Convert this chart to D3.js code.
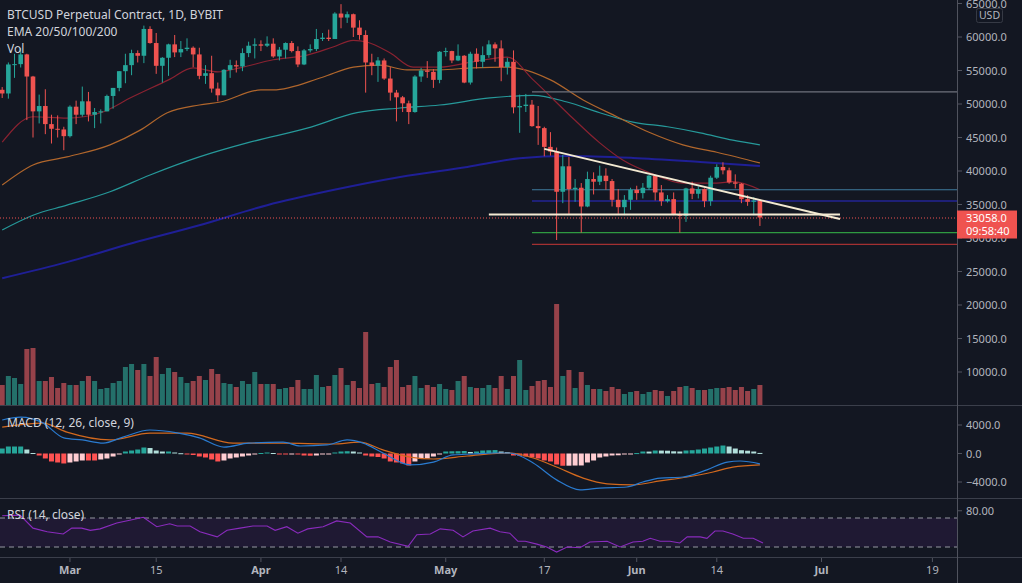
<!DOCTYPE html>
<html>
<head>
<meta charset="utf-8">
<script src="https://cdnjs.cloudflare.com/ajax/libs/d3/7.8.5/d3.min.js"></script>
<style>
    body { margin: 0; background: #131722; overflow: hidden; }
    svg text { font-family: 'Noto Sans', 'Open Sans', sans-serif; }
</style>
</head>
<body>
<svg id="chart" width="1022" height="583"></svg>
<script>

    // daily candles from this day on (BYBIT BTCUSD, 1D)
    var firstDay = '2021-02-18'
    // [open, high, low, close]
    var ohlc = [
        // Feb
        [52120, 52530, 50900, 51570], [51570, 56200, 50800, 55900], [55900, 57500, 53900, 55950],
        [55950, 58350, 55450, 57400], [57400, 57500, 47600, 54100], [54100, 54200, 45000, 48900],
        [48900, 51400, 47100, 49700], [49700, 52200, 45500, 47000], [47000, 48400, 44100, 46300],
        [46300, 48300, 45000, 46200], [46200, 46600, 43100, 45200],
        // Mar
        [45200, 49800, 45000, 49600], [49600, 50500, 47000, 48400], [48400, 52600, 48100, 50400],
        [50400, 51800, 47400, 48400], [48400, 49400, 46400, 48800], [48800, 49200, 47100, 48900],
        [48900, 51400, 48900, 51200], [51200, 52400, 49300, 52400], [52400, 54900, 51900, 54900],
        [54900, 57500, 53100, 55800], [55800, 58100, 54300, 57600], [57600, 58000, 56200, 57200],
        [57200, 61700, 56100, 61200], [61200, 61600, 59000, 59100], [59100, 60600, 54500, 55700],
        [55700, 57000, 53200, 56900], [56900, 59000, 54200, 58900], [58900, 60300, 57000, 57700],
        [57700, 59400, 57000, 58200], [58200, 59800, 57900, 58400], [58400, 58600, 55500, 57400],
        [57400, 58400, 53700, 54200], [54200, 55800, 53000, 54600], [54600, 57200, 51700, 52300],
        [52300, 53200, 50400, 51300], [51300, 55200, 51300, 55100], [55100, 56600, 53900, 55800],
        [55800, 56500, 54700, 55600], [55600, 58300, 54900, 57600], [57600, 59300, 57000, 58700],
        [58700, 59800, 56800, 58900],
        // Apr
        [58900, 59500, 57900, 58700], [58700, 60100, 58500, 59000], [59000, 59800, 56900, 57100],
        [57100, 58500, 56500, 58100], [58100, 59200, 56800, 59100], [59100, 59400, 57700, 57900],
        [57900, 58600, 55500, 55900], [55900, 58200, 55800, 58000], [58000, 58900, 57700, 58200],
        [58200, 61200, 57900, 59700], [59700, 60600, 59400, 59900], [59900, 61100, 59400, 59700],
        [59700, 63700, 59700, 63500], [63500, 64900, 61300, 62900], [62900, 63800, 62100, 63400],
        [63400, 63500, 60000, 61400], [61400, 62500, 59600, 60300], [60300, 61000, 51700, 56200],
        [56200, 57500, 54300, 55700], [55700, 57000, 53300, 56500], [56500, 56800, 53600, 53800],
        [53800, 55500, 50500, 51700], [51700, 52100, 47400, 51000], [51000, 51200, 48800, 50100],
        [50100, 50500, 47000, 48800], [48800, 54300, 48700, 54100], [54100, 55400, 53300, 55000],
        [55000, 56400, 53900, 54800], [54800, 55200, 52400, 53600], [53600, 57900, 53100, 57800],
        // May
        [57800, 58400, 57100, 57900], [57900, 57950, 56100, 56500], [56500, 58900, 56400, 57200],
        [57200, 57300, 53100, 53200], [53200, 57800, 52900, 57500], [57500, 58300, 55300, 56300],
        [56300, 58600, 55400, 57300], [57300, 59500, 56900, 58900], [58900, 59200, 56300, 58300],
        [58300, 59500, 53400, 55500], [55500, 56900, 54400, 56300], [56300, 58000, 48600, 49500],
        [49500, 51400, 45700, 49700], [49700, 51500, 48800, 49900], [49900, 50600, 46600, 46700],
        [46700, 49700, 43900, 46400], [46400, 46600, 42200, 43600], [43600, 45800, 42300, 42900],
        [42900, 43500, 29700, 36900], [36900, 42400, 35200, 40700], [40700, 42100, 33500, 37300],
        [37300, 38800, 35400, 37500], [37500, 38200, 30800, 34700], [34700, 39900, 34600, 38800],
        [38800, 39800, 36500, 38400], [38400, 40800, 37900, 39300], [39300, 40400, 37200, 38500],
        [38500, 38800, 34700, 35700], [35700, 37300, 33600, 34600], [34600, 36400, 33400, 35700],
        [35700, 37500, 34200, 37200],
        // Jun
        [37200, 37800, 35700, 36700], [36700, 38200, 35900, 37500], [37500, 39400, 37200, 39300],
        [39300, 39300, 35600, 36800], [36800, 37900, 34800, 35500], [35500, 36400, 35300, 35800],
        [35800, 36800, 33400, 33500], [33500, 34000, 30800, 33300], [33300, 37500, 32400, 37400],
        [37400, 38400, 35800, 36600], [36600, 37700, 35900, 37300], [37300, 37400, 34600, 35500],
        [35500, 39300, 34800, 39000], [39000, 41000, 38800, 40600], [40600, 41300, 39500, 40100],
        [40100, 40500, 38100, 38300], [38300, 39500, 37400, 38100], [38100, 38200, 35200, 35800],
        [35800, 36400, 34800, 35400], [35400, 36100, 33400, 35600], [35600, 35750, 31800, 33058]
    ]

    var volumes = [
        2000, 2900, 2700, 2100, 5600, 5700, 2400, 2400, 2800, 1700, 2200,
        2000, 2000, 2400, 2900, 2400, 1600, 1700, 2200, 2400, 3800, 4100, 3500, 4100, 2900, 4800,
        3100, 3700, 3300, 2800, 2200, 2400, 2900, 2500, 3600, 3100, 2200, 2100, 1800, 2400, 2100,
        3300, 2100, 2100, 2100, 1600, 1700, 1800, 2500, 1600, 1600, 3000, 1800, 1900, 3000, 3700,
        2000, 2400, 1700, 7300, 2100, 2200, 1800, 3800, 4500, 1800, 2000, 2900, 1700, 2000, 1800,
        2100, 1600, 1500, 2400, 2900, 1800, 1700, 1700, 2000, 1700, 2900, 1600, 2900, 4500, 1500,
        1900, 2400, 2500, 1800, 10100, 2900, 3500, 1700, 3300, 2000, 1600, 1600, 1400, 1800, 1600,
        1100, 1300, 1400, 1100, 1300, 1500, 1400, 900, 1400, 1800, 1900, 1700, 1500, 1500, 1600,
        1700, 1700, 1800, 1500, 1800, 1400, 1600, 2000
    ]

    // EMA lines, read as [day index, price]
    var ema20 = [[0, 44300], [5, 48100], [10.5, 47900], [16, 48700], [21, 51000], [27, 53600],
        [31, 55400], [35, 54800], [38.6, 55400], [44, 56600], [49.5, 57300], [53.7, 58500],
        [57, 59500], [59.2, 59250], [63, 57600], [66.7, 55500], [71, 55500], [76.4, 56300],
        [82, 57000], [86.2, 53600], [91.7, 48700], [97, 44200], [100.8, 41600], [105.2, 39700],
        [110.5, 38200], [116, 38200], [118.6, 38400], [123, 37200]]
    var ema50 = [[0, 37900], [5, 40900], [10.5, 42100], [17.5, 43900], [22.4, 46100], [26.8, 48700],
        [32, 49850], [35.4, 50300], [42, 52100], [44, 52100], [52, 54000], [57, 55500], [61.3, 55800],
        [65.7, 55100], [71, 55100], [76.4, 55400], [82, 55500], [89, 53600], [94.3, 50600],
        [99.8, 48100], [105.2, 45700], [110.5, 43900], [116, 42800], [123, 41200]]
    var ema100 = [[0, 31200], [5, 33400], [10.5, 34900], [17.5, 36900], [24, 39400], [32, 42100],
        [40.2, 44300], [49.5, 46400], [57.6, 48700], [64.6, 49400], [71, 49850], [79.2, 50900],
        [86.2, 51300], [91.7, 50300], [97, 48700], [102.4, 47300], [108, 46600], [113.3, 45700],
        [118.6, 44600], [123, 43900]]
    var ema200 = [[0, 24000], [10.5, 26400], [21.2, 29250], [32, 31900], [43, 34900], [53.7, 37150],
        [64.6, 39100], [75.5, 40600], [84, 41900], [91.7, 42250], [102.4, 41950], [113.3, 41350],
        [123, 40750]]

    // MACD (12, 26, close, 9)
    var macdHist = [
        700, 980, 980, 980, 560, 70, -280, -700, -1120, -1260, -1400, -1260, -1120, -980, -980,
        -980, -840, -700, -420, -70, 280, 420, 560, 840, 770, 420, 280, 280, 140, 40, -140, -210,
        -420, -560, -840, -1120, -980, -700, -560, -420, -280, -70, 70, 140, 70, -70, -140, -110,
        -140, -280, -310, -280, -140, -70, 140, 280, 320, 280, 140, -280, -420, -490, -700, -1120,
        -1260, -1400, -1680, -1120, -770, -700, -420, -70, 280, 310, 320, 350, 210, 280, 420, 450,
        480, 280, 210, -280, -310, -420, -560, -700, -980, -1120, -1540, -1720, -1710, -1690,
        -1680, -1260, -980, -560, -420, -280, -250, -140, -40, 60, 280, 270, 420, 410, 390, 310,
        280, 420, 460, 560, 700, 840, 980, 1120, 980, 700, 460, 390, 280, 80
    ]
    var macdLine = [[0, 4700], [3, 5100], [6.6, 4300], [10, 2200], [13, 1900], [16.4, 1450],
        [19.6, 2300], [24, 3300], [28.4, 2900], [32, 2200], [36, 900], [40, 1450], [45.6, 1600],
        [48.4, 1050], [52.7, 1200], [56, 1900], [58.6, 1450], [61.8, 70], [66.2, -1600],
        [70, -1200], [73.2, -200], [76.4, -70], [79.7, 70], [82.4, 70], [86.2, -1330],
        [90, -3700], [93.8, -5100], [97, -4850], [101.4, -4700], [104, -4000], [106.8, -3450],
        [110.5, -3300], [114.4, -2300], [117.7, -1200], [119.8, -1050], [123, -1450]]
    var signalLine = [[0, 3700], [6.6, 4250], [10.5, 3000], [17.5, 1900], [24, 2850], [30, 2850],
        [37.5, 1450], [45.6, 1450], [53.7, 1330], [58, 1600], [61.8, 500], [66.2, -500], [70, -770],
        [75.5, -350], [82.4, 70], [86.2, -630], [90, -1900], [94.3, -3450], [98.2, -4250],
        [102.4, -4400], [106.8, -3850], [111.2, -3300], [115.4, -2600], [118.6, -1900], [123, -1600]]

    // RSI (14, close)
    var rsiLine = [[0, 73], [2.9, 74], [5, 56], [7.3, 51], [9.9, 48], [11.3, 56], [12.9, 56],
        [14.3, 53], [15.9, 55], [18.6, 63], [20.7, 67], [22.9, 71], [25.1, 58], [27.2, 62],
        [28.4, 59], [30.5, 59], [32.1, 51], [34.9, 44], [36.5, 53], [38.6, 56], [40.7, 59],
        [43, 59], [44.3, 53], [46.2, 58], [48, 49], [49.6, 55], [52.1, 58], [54.3, 66], [56.5, 63],
        [59.2, 44], [61, 44], [63, 37], [65.9, 31], [67.3, 47], [69.5, 48], [71.1, 55], [73.2, 53],
        [74.8, 44], [76.4, 52], [79.2, 56], [80.8, 51], [82.4, 49], [83.7, 38], [84.9, 38],
        [86.8, 34], [88.4, 30], [90, 23], [91.7, 30], [93.8, 29], [95.4, 37], [98.2, 38],
        [100.3, 30], [102.4, 37], [104, 38], [105.2, 42], [106.8, 38], [108.4, 38], [110, 35.5],
        [111.2, 44], [113.3, 44], [114.4, 42], [115.7, 52], [117, 52], [118.6, 48], [120.3, 42],
        [121.9, 42], [123.5, 35.5]]

    // drawings
    var levelStart = '2021-05-15'
    var levelPrices = [51800, 37200, 35520, 30800, 29050]
    var baseLine = [['2021-05-08', 33500], ['2021-07-04', 33500]]
    var trendLine = [['2021-05-17', 43300], ['2021-07-04', 32850]]
    var lastPrice = 33058
    var countdown = '09:58:40'

    // axis labels
    var priceTicks = [65000, 60000, 55000, 50000, 45000, 40000, 35000, 30000, 25000, 20000, 15000, 10000]
    var macdTicks = [4000, 0, -4000]
    var timeTicks = ['2021-03-01', '2021-03-15', '2021-04-01', '2021-04-14', '2021-05-01',
        '2021-05-17', '2021-06-01', '2021-06-14', '2021-07-01', '2021-07-19']
    var timeTickLabels = ['Mar', '15', 'Apr', '14', 'May', '17', 'Jun', '14', 'Jul', '19']

    var svg = d3.select('#chart')
    var axisX = 957
    var up = '#26a69a', down = '#ef5350'
    var day0 = new Date(firstDay + 'T00:00:00Z')

    var x = d3.scaleUtc().
    domain([day0, d3.utcDay.offset(day0, 151)]).
    range([2.2, 932.4])
    function xi(i) {
        return x(new Date(+day0 + i * 864e5))
    }
    function xd(s) {
        return x(new Date(s + 'T00:00:00Z'))
    }
    var y = d3.scaleLinear().domain([10000, 65000]).range([372, 3.5])
    var yVol = d3.scaleLinear().domain([0, 10100]).range([405, 304])
    var yMacd = d3.scaleLinear().domain([-4000, 4000]).range([482, 425])
    var yRsi = d3.scaleLinear().domain([30, 70]).range([547, 518])

    svg.append('rect').attr('width', 1022).attr('height', 583).attr('fill', '#131722')

    var defs = svg.append('defs')
    function clip(id, top, bottom) {
        defs.append('clipPath').attr('id', id).append('rect').
        attr('x', 0).attr('y', top).attr('width', axisX).attr('height', bottom - top)
    }
    clip('c-main', 0, 405)
    clip('c-macd', 405, 498)
    clip('c-rsi', 498, 557)

    var main = svg.append('g').attr('clip-path', 'url(#c-main)')

    // volume
    main.selectAll('rect.vol').data(volumes).enter().append('rect').
    attr('class', 'vol').
    attr('x', function(d, i) { return xi(i) - 2.5 }).
    attr('width', 5).
    attr('y', function(d) { return yVol(d) }).
    attr('height', function(d) { return 405 - yVol(d) }).
    attr('fill', function(d, i) { return ohlc[i][3] >= ohlc[i][0] ? '#24706a' : '#96424a' })

    // EMA lines
    var emaLine = d3.line().
    x(function(d) { return xi(d[0]) }).
    y(function(d) { return y(d[1]) }).
    curve(d3.curveMonotoneX)
    var emas = [[ema200, '#1f1f96', 2], [ema100, '#26999a', 1.2], [ema50, '#b0662c', 1.2], [ema20, '#8a2231', 1.2]]
    emas.forEach(function(e) {
        main.append('path').attr('d', emaLine(e[0])).attr('fill', 'none').
        attr('stroke', e[1]).attr('stroke-width', e[2])
    })

    // horizontal levels
    var levelColors = ['#6f727c', '#3f7b9e', '#2a2acc', '#2f9a41', '#a33032']
    levelPrices.forEach(function(p, k) {
        main.append('line').
        attr('x1', xd(levelStart)).attr('x2', axisX).
        attr('y1', y(p)).attr('y2', y(p)).
        attr('stroke', levelColors[k]).attr('stroke-width', 1.2)
    })

    // last price dotted line
    main.append('line').
    attr('x1', 0).attr('x2', axisX).
    attr('y1', y(lastPrice) + 0.5).attr('y2', y(lastPrice) + 0.5).
    attr('stroke', down).attr('stroke-width', 1).attr('stroke-dasharray', '1,2')

    // candles
    var candle = main.selectAll('g.candle').data(ohlc).enter().append('g').attr('class', 'candle')
    candle.append('line').
    attr('x1', function(d, i) { return xi(i) }).
    attr('x2', function(d, i) { return xi(i) }).
    attr('y1', function(d) { return y(d[1]) }).
    attr('y2', function(d) { return y(d[2]) }).
    attr('stroke', function(d) { return d[3] >= d[0] ? up : down }).
    attr('stroke-width', 1)
    candle.append('rect').
    attr('x', function(d, i) { return xi(i) - 2.3 }).
    attr('width', 4.6).
    attr('y', function(d) { return y(Math.max(d[0], d[3])) }).
    attr('height', function(d) { return Math.max(1, Math.abs(y(d[0]) - y(d[3]))) }).
    attr('fill', function(d) { return d[3] >= d[0] ? up : down })

    // drawn lines
    ;[baseLine, trendLine].forEach(function(l) {
        main.append('line').
        attr('x1', xd(l[0][0])).attr('y1', y(l[0][1])).
        attr('x2', xd(l[1][0])).attr('y2', y(l[1][1])).
        attr('stroke', '#f3ead2').attr('stroke-width', 2)
    })

    // MACD pane
    var macd = svg.append('g').attr('clip-path', 'url(#c-macd)')
    macd.selectAll('rect').data(macdHist).enter().append('rect').
    attr('x', function(d, i) { return xi(i) - 2.5 }).
    attr('width', 5).
    attr('y', function(d) { return Math.min(yMacd(d), yMacd(0)) }).
    attr('height', function(d) { return Math.max(1, Math.abs(yMacd(d) - yMacd(0))) }).
    attr('fill', function(d, i) {
        var prev = i > 0 ? macdHist[i - 1] : d
        if (d >= 0) return d >= prev ? '#26a69a' : '#b2dfdb'
        return d <= prev ? '#ff5252' : '#ffcdd2'
    })
    var mline = d3.line().
    x(function(d) { return xi(d[0]) }).
    y(function(d) { return yMacd(d[1]) }).
    curve(d3.curveMonotoneX)
    macd.append('path').attr('d', mline(signalLine)).attr('fill', 'none').attr('stroke', '#d2691e').attr('stroke-width', 1.2)
    macd.append('path').attr('d', mline(macdLine)).attr('fill', 'none').attr('stroke', '#2a7bd0').attr('stroke-width', 1.2)

    // RSI pane
    var rsi = svg.append('g').attr('clip-path', 'url(#c-rsi)')
    rsi.append('rect').attr('x', 0).attr('width', axisX).
    attr('y', yRsi(70)).attr('height', yRsi(30) - yRsi(70)).attr('fill', '#1f1933')
    ;[70, 30].forEach(function(v) {
        rsi.append('line').attr('x1', 0).attr('x2', axisX).
        attr('y1', yRsi(v)).attr('y2', yRsi(v)).
        attr('stroke', '#9598a1').attr('stroke-dasharray', '5,4').attr('stroke-width', 1)
    })
    rsi.append('path').attr('d', d3.line().
        x(function(d) { return xi(d[0]) }).
        y(function(d) { return yRsi(d[1]) })(rsiLine)).
    attr('fill', 'none').attr('stroke', '#8a2bbd').attr('stroke-width', 1.1)

    // frame lines
    var frame = '#3b3f4b'
    ;[405.5, 498.5, 557.5].forEach(function(yy) {
        svg.append('line').attr('x1', 0).attr('x2', 1022).attr('y1', yy).attr('y2', yy).attr('stroke', frame)
    })
    svg.append('line').attr('x1', axisX + 0.5).attr('x2', axisX + 0.5).attr('y1', 0).attr('y2', 583).attr('stroke', '#50535e')

    // price axis
    var axisText = '#b2b5be'
    priceTicks.forEach(function(v) {
        svg.append('line').attr('x1', axisX).attr('x2', axisX + 5).attr('y1', y(v)).attr('y2', y(v)).attr('stroke', '#50535e')
        svg.append('text').attr('x', 966).attr('y', y(v) + 4).attr('font-size', 11).attr('fill', axisText).
        text(d3.format('.1f')(v))
    })
    svg.append('rect').attr('x', 976.5).attr('y', 8.5).attr('width', 26).attr('height', 14).attr('rx', 2).
    attr('fill', '#131722').attr('stroke', '#363a45')
    svg.append('text').attr('x', 989.5).attr('y', 19).attr('text-anchor', 'middle').attr('font-size', 10.5).
    attr('fill', axisText).text('USD')

    // last price tag
    svg.append('rect').attr('x', axisX).attr('y', y(lastPrice) - 7).attr('width', 60).attr('height', 28).attr('fill', down)
    svg.append('text').attr('x', 966).attr('y', y(lastPrice) + 4).attr('font-size', 11).attr('fill', '#ffffff').
    text(d3.format('.1f')(lastPrice))
    svg.append('text').attr('x', 966).attr('y', y(lastPrice) + 17).attr('font-size', 11).attr('fill', '#ffffff').
    text(countdown)

    // MACD / RSI axis
    macdTicks.forEach(function(v) {
        svg.append('line').attr('x1', axisX).attr('x2', axisX + 5).attr('y1', yMacd(v)).attr('y2', yMacd(v)).attr('stroke', '#50535e')
        svg.append('text').attr('x', 966).attr('y', yMacd(v) + 4).attr('font-size', 11).attr('fill', axisText).
        text(d3.format('.1f')(v).replace('-', '\u2212'))
    })
    svg.append('line').attr('x1', axisX).attr('x2', axisX + 5).attr('y1', yRsi(80)).attr('y2', yRsi(80)).attr('stroke', '#50535e')
    svg.append('text').attr('x', 966).attr('y', yRsi(80) + 4).attr('font-size', 11).attr('fill', axisText).text('80.00')

    // time axis
    timeTicks.forEach(function(t, k) {
        var tx = xd(t)
        svg.append('line').attr('x1', tx).attr('x2', tx).attr('y1', 558).attr('y2', 562).attr('stroke', '#50535e')
        svg.append('text').attr('x', tx).attr('y', 574).attr('text-anchor', 'middle').attr('font-size', 11).
        attr('font-weight', /^[A-Z]/.test(timeTickLabels[k]) ? 'bold' : 'normal').
        attr('fill', axisText).text(timeTickLabels[k])
    })

    // legends
    var legend = '#d1d4dc'
    svg.append('text').attr('x', 7).attr('y', 19).attr('font-size', 12).attr('fill', legend).text('BTCUSD Perpetual Contract, 1D, BYBIT')
    svg.append('text').attr('x', 7).attr('y', 36).attr('font-size', 12).attr('fill', legend).text('EMA 20/50/100/200')
    svg.append('text').attr('x', 7).attr('y', 53).attr('font-size', 12).attr('fill', legend).text('Vol')
    svg.append('text').attr('x', 7).attr('y', 427).attr('font-size', 12).attr('fill', legend).text('MACD (12, 26, close, 9)')
    svg.append('text').attr('x', 7).attr('y', 519).attr('font-size', 12).attr('fill', legend).text('RSI (14, close)')
</script>
</body>
</html>
